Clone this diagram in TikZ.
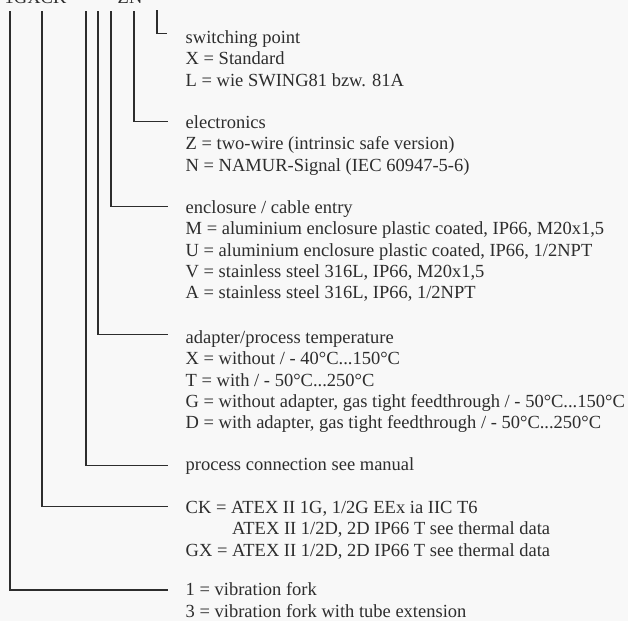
\documentclass[tikz,border=0pt]{standalone}
\usepackage{fontspec}
\setmainfont{Liberation Serif}
\definecolor{ink}{RGB}{45,45,45}
\definecolor{paper}{RGB}{248,248,248}

\begin{document}
\begin{tikzpicture}[x=1pt, y=-1pt, line width=1.4pt, draw=ink,
    txt/.style={inner sep=0pt, text=ink, font=\fontsize{18.5}{21.2}\selectfont},
    block/.style={txt, anchor=north west, align=left}]
    \fill[paper] (0,0) rectangle (628,621);
    \useasboundingbox (0,0) rectangle (628,621);

    % type code, cut off at the top edge
    \node[txt, anchor=base west] (code) at (4,3) {1GXCK};
    \node[txt, anchor=base west] (codezn) at (117,3) {ZN};

    \coordinate (fk) at (10,11);
    \coordinate (ck) at (42,11);
    \coordinate (pr) at (86,11);
    \coordinate (tp) at (98,11);
    \coordinate (en) at (111,11);
    \coordinate (ec) at (134,11);
    \coordinate (sw) at (157,10);

    \node[block] (sp) at (185,28.2) {\strut switching point\\X = Standard\\L = wie SWING81 bzw. 81A};
    \node[block] (el) at (185,113.2) {\strut electronics\\Z = two-wire (intrinsic safe version)\\N = NAMUR-Signal (IEC 60947-5-6)};
    \node[block] (enc) at (185,198.2) {\strut enclosure / cable entry\\M = aluminium enclosure plastic coated, IP66, M20x1,5\\U = aluminium enclosure plastic coated, IP66, 1/2NPT\\V = stainless steel 316L, IP66, M20x1,5\\A = stainless steel 316L, IP66, 1/2NPT};
    \node[block] (ad) at (185,328.2) {\strut adapter/process temperature\\X = without / - 40°C...150°C\\T = with / - 50°C...250°C\\G = without adapter, gas tight feedthrough / - 50°C...150°C\\D = with adapter, gas tight feedthrough / - 50°C...250°C};
    \node[block] (pc) at (185,455.2) {\strut process connection see manual};
    \node[block] (atex) at (185,498.2) {\strut CK = ATEX II 1G, 1/2G EEx ia IIC T6\\\phantom{GX = }ATEX II 1/2D, 2D IP66 T see thermal data\\GX = ATEX II 1/2D, 2D IP66 T see thermal data};
    \node[block] (fork) at (185,580.4) {\strut 1 = vibration fork\\3 = vibration fork with tube extension};

    \draw (sw) |- ([xshift=-18pt,yshift=-5pt]sp.north west);
    \draw (ec) |- ([xshift=-17pt,yshift=-8.5pt]el.north west);
    \draw (en) |- ([xshift=-17pt,yshift=-8.5pt]enc.north west);
    \draw (tp) |- ([xshift=-17pt,yshift=-6.5pt]ad.north west);
    \draw (pr) |- ([xshift=-17pt,yshift=-10pt]pc.north west);
    \draw (ck) |- ([xshift=-17pt,yshift=-8.5pt]atex.north west);
    \draw (fk) |- ([xshift=-17pt,yshift=-9.6pt]fork.north west);
\end{tikzpicture}
\end{document}
